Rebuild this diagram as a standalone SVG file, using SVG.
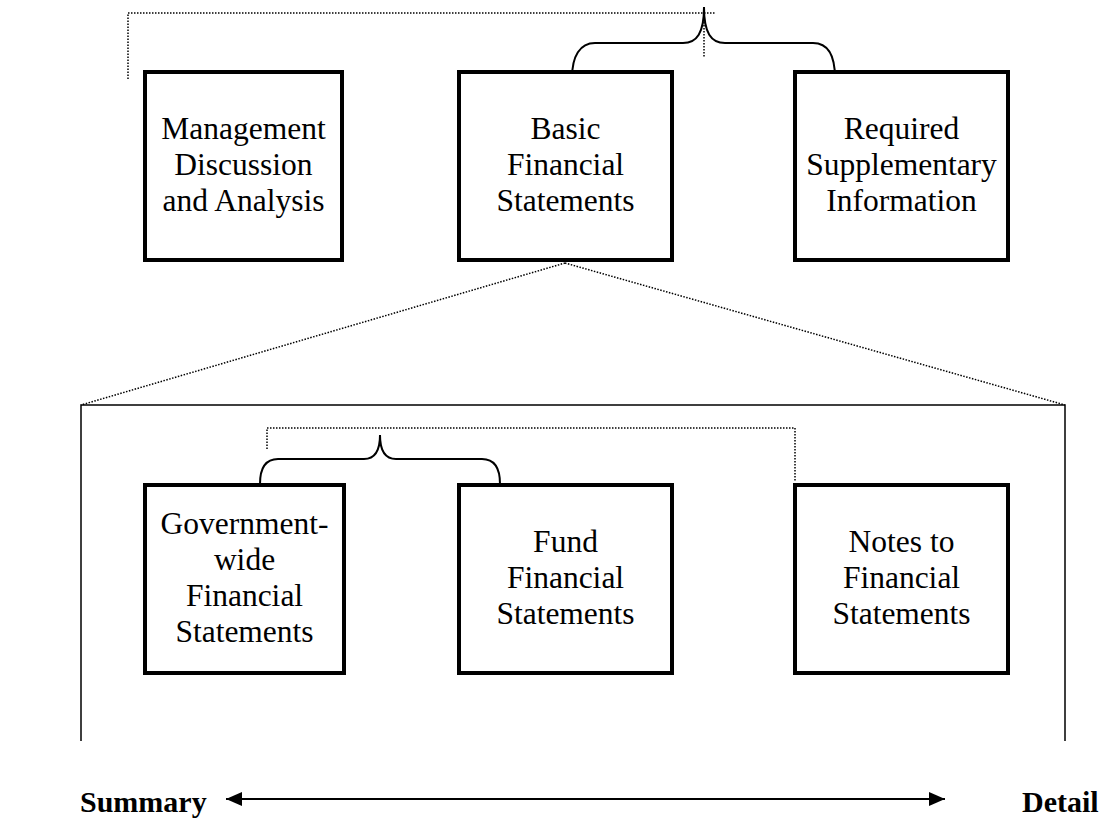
<svg xmlns="http://www.w3.org/2000/svg" width="1102" height="818" viewBox="0 0 1102 818">
<style>
.box{fill:#fff;stroke:#000;stroke-width:4}
.t{font-family:"Liberation Serif","Times New Roman",serif;font-size:31.5px;fill:#000;text-anchor:middle}
.b{font-family:"Liberation Serif","Times New Roman",serif;font-size:30px;font-weight:bold;fill:#000}
.dot{fill:none;stroke:#000;stroke-width:1.5;stroke-dasharray:1.5 1.5}
.brace{fill:none;stroke:#000;stroke-width:2}
.thin{fill:none;stroke:#000;stroke-width:1.5}
.arr{fill:none;stroke:#000;stroke-width:2}
</style>
<defs>
<marker id="ah" viewBox="0 0 16 14" refX="16" refY="7" markerWidth="16" markerHeight="14" markerUnits="userSpaceOnUse" orient="auto-start-reverse">
<path d="M0,0 L16,7 L0,14 Z" fill="#000"/>
</marker>
</defs>
<g id="connectors">
<polyline class="dot" points="128,79 128,13 715,13"/>
<line class="dot" x1="704" y1="13" x2="704" y2="57"/>
<path class="brace" d="M572,78 C572,56 580,43 595,43 L683,43 C697,43 704,33 704,7 C704,33 711,43 725,43 L813,43 C828,43 835,56 835,78"/>
<line class="dot" x1="565" y1="263" x2="81" y2="405"/>
<line class="dot" x1="565" y1="263" x2="1065" y2="405"/>
<polyline class="thin" points="81,741 81,405 1065,405 1065,741"/>
<polyline class="dot" points="267,449 267,428 795,428 795,482"/>
<path class="brace" d="M260,484 C260,468 266,459 278,459 L364,459 C375,459 380,450 380,435 C380,450 385,459 396,459 L482,459 C494,459 500,468 500,484"/>
<line class="arr" x1="226" y1="799" x2="945" y2="799" marker-start="url(#ah)" marker-end="url(#ah)"/>
</g>
<g id="mda">
<rect class="box" x="145" y="72" width="197" height="188"/>
<text class="t" x="243.5" y="139">Management</text>
<text class="t" x="243.5" y="175">Discussion</text>
<text class="t" x="243.5" y="211">and Analysis</text>
</g>
<g id="bfs">
<rect class="box" x="459" y="72" width="213" height="188"/>
<text class="t" x="565.5" y="139">Basic</text>
<text class="t" x="565.5" y="175">Financial</text>
<text class="t" x="565.5" y="211">Statements</text>
</g>
<g id="rsi">
<rect class="box" x="795" y="72" width="213" height="188"/>
<text class="t" x="901.5" y="139">Required</text>
<text class="t" x="901.5" y="175">Supplementary</text>
<text class="t" x="901.5" y="211">Information</text>
</g>
<g id="gwfs">
<rect class="box" x="145" y="485" width="199" height="188"/>
<text class="t" x="244.5" y="534">Government-</text>
<text class="t" x="244.5" y="570">wide</text>
<text class="t" x="244.5" y="606">Financial</text>
<text class="t" x="244.5" y="642">Statements</text>
</g>
<g id="ffs">
<rect class="box" x="459" y="485" width="213" height="188"/>
<text class="t" x="565.5" y="552">Fund</text>
<text class="t" x="565.5" y="588">Financial</text>
<text class="t" x="565.5" y="624">Statements</text>
</g>
<g id="nfs">
<rect class="box" x="795" y="485" width="213" height="188"/>
<text class="t" x="901.5" y="552">Notes to</text>
<text class="t" x="901.5" y="588">Financial</text>
<text class="t" x="901.5" y="624">Statements</text>
</g>
<g id="labels">
<text class="b" x="80" y="812">Summary</text>
<text class="b" x="1022" y="812">Detail</text>
</g>
</svg>
